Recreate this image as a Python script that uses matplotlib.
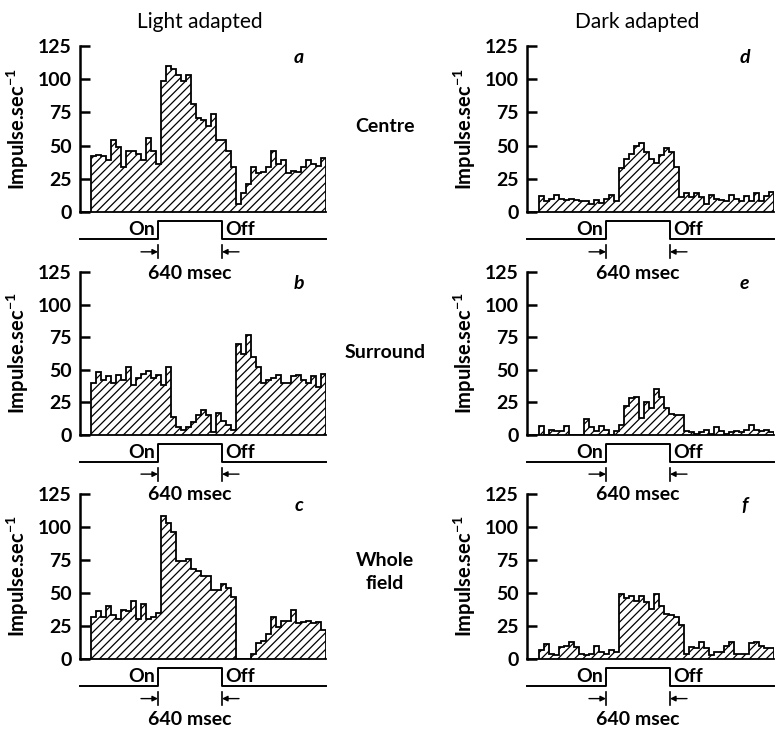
import numpy as np
import matplotlib
matplotlib.use("Agg")
import matplotlib.pyplot as plt

plt.rcParams['font.family'] = ['Lato', 'DejaVu Sans']
plt.rcParams['mathtext.fontset'] = 'custom'
plt.rcParams['mathtext.rm'] = 'Lato:bold'
plt.rcParams['mathtext.bf'] = 'Lato:bold'
plt.rcParams['hatch.linewidth'] = 0.9

# 50 msec bins, firing rate in impulse/sec
bin_ms = 50
stim_on = 670
stim_off = 1310

centre_light = [42, 43, 42, 39, 54, 49, 34, 46, 46, 44, 39, 56, 46, 36, 99, 110,
                108, 103, 99, 103, 81, 71, 69, 65, 74, 54, 54, 46, 34, 6, 14, 21,
                34, 29, 30, 34, 46, 36, 39, 29, 31, 30, 34, 39, 36, 35, 41]
surround_light = [40, 48, 42, 45, 40, 46, 42, 52, 38, 44, 47, 49, 44, 46, 38, 52,
                  14, 6, 4, 6, 10, 15, 19, 15, 2, 17, 11, 8, 4, 70, 62, 77,
                  60, 52, 40, 42, 44, 46, 40, 40, 45, 46, 42, 40, 45, 37, 47]
whole_light = [32, 36, 32, 40, 33, 30, 37, 36, 44, 30, 42, 30, 32, 35, 108, 103,
               96, 74, 74, 76, 68, 67, 63, 63, 52, 52, 57, 54, 47, 0, 0, 0,
               4, 12, 14, 19, 32, 24, 29, 29, 37, 27, 28, 29, 27, 28, 22]
centre_dark = [12, 8, 10, 13, 10, 9, 10, 9, 8, 8, 6, 9, 7, 10, 13, 8,
               33, 40, 44, 50, 52, 45, 40, 37, 43, 48, 45, 34, 11, 14, 11, 14,
               11, 6, 13, 10, 9, 8, 13, 10, 8, 12, 8, 14, 8, 12, 15]
surround_dark = [7, 0, 4, 3, 3, 7, 0, 0, 0, 12, 6, 3, 7, 4, 0, 3,
                 8, 22, 28, 29, 13, 25, 21, 35, 29, 21, 16, 15, 15, 3, 2, 1,
                 2, 4, 1, 6, 3, 1, 2, 3, 2, 4, 8, 4, 3, 4, 2]
whole_dark = [7, 11, 4, 3, 9, 10, 13, 9, 4, 3, 4, 10, 5, 4, 7, 5,
              49, 46, 48, 44, 48, 43, 38, 49, 40, 34, 33, 32, 26, 4, 9, 8,
              13, 8, 3, 5, 5, 10, 13, 4, 4, 4, 12, 13, 10, 8, 8]

panels = [
    (centre_light, 'a', 0, 0), (surround_light, 'b', 1, 0), (whole_light, 'c', 2, 0),
    (centre_dark, 'd', 0, 1), (surround_dark, 'e', 1, 1), (whole_dark, 'f', 2, 1),
]

W, H = 778, 732
fig = plt.figure(figsize=(W / 100, H / 100), dpi=100)

col_x = [(80, 326, -110), (527, 774, -120)]   # spine px, end px, xlim left
row_y = [(212, 46), (435, 272), (659, 494)]   # zero px, 125 px

for values, letter, r, c in panels:
    x0, x1, xleft = col_x[c]
    y0, y1 = row_y[r]
    ax = fig.add_axes([x0 / W, 1 - y0 / H, (x1 - x0) / W, (y0 - y1) / H])
    ax.patch.set_visible(False)
    edges = np.arange(len(values) + 1) * bin_ms
    ax.bar(edges[:-1], values, width=bin_ms, align='edge', color='white',
           edgecolor='black', linewidth=0, hatch='////')
    ax.stairs(values, edges, baseline=0, color='black', linewidth=1.3)
    ax.set_xlim(xleft, edges[-1])
    ax.set_ylim(0, 125)
    ax.set_yticks([0, 25, 50, 75, 100, 125])
    ax.set_xticks([])
    ax.tick_params(axis='y', direction='in', length=7, width=1.8, pad=6,
                   labelsize=14)
    for lab in ax.get_yticklabels():
        lab.set_fontweight('bold')
    for s in ['top', 'right']:
        ax.spines[s].set_visible(False)
    ax.spines['left'].set_linewidth(1.8)
    ax.spines['bottom'].set_linewidth(1.3)
    ax.set_ylabel('Impulse.sec$^{-1}$', fontsize=14.5, fontweight='bold', labelpad=5)
    ax.text(0.89 if c == 0 else 0.88, 0.93, letter, transform=ax.transAxes,
            fontsize=14, fontstyle='italic', fontweight='bold', ha='center', va='center')

    # stimulus trace below the histogram
    lo, hi = -20.5, -6.8
    ax.plot([xleft, stim_on, stim_on, stim_off, stim_off, edges[-1]],
            [lo, lo, hi, hi, lo, lo], color='black', lw=1.4, clip_on=False)
    ax.text(stim_on - 30, (lo + hi) / 2 + 0.5, 'On', ha='right', va='center',
            fontsize=14, fontweight='bold')
    ax.text(stim_off + 30, (lo + hi) / 2 + 0.5, 'Off', ha='left', va='center',
            fontsize=14, fontweight='bold')
    ya = -30
    ax.plot([stim_on, stim_on], [ya - 5, ya + 5], color='black', lw=1.2, clip_on=False)
    ax.plot([stim_off, stim_off], [ya - 5, ya + 5], color='black', lw=1.2, clip_on=False)
    ax.annotate('', xy=(stim_on, ya), xytext=(stim_on - 170, ya),
                arrowprops=dict(arrowstyle='-|>', color='black', lw=1.0,
                                mutation_scale=8, shrinkA=0, shrinkB=0),
                annotation_clip=False)
    ax.annotate('', xy=(stim_off, ya), xytext=(stim_off + 170, ya),
                arrowprops=dict(arrowstyle='-|>', color='black', lw=1.0,
                                mutation_scale=8, shrinkA=0, shrinkB=0),
                annotation_clip=False)
    ax.text((stim_on + stim_off) / 2, -46, '640 msec', ha='center', va='center',
            fontsize=14, fontweight='bold')

fig.text(200 / W, 1 - 22 / H, 'Light adapted', ha='center', va='center', fontsize=15)
fig.text(637 / W, 1 - 22 / H, 'Dark adapted', ha='center', va='center', fontsize=15)
fig.text(385 / W, 1 - 127 / H, 'Centre', ha='center', va='center', fontsize=14,
         fontweight='bold')
fig.text(385 / W, 1 - 352 / H, 'Surround', ha='center', va='center', fontsize=14,
         fontweight='bold')
fig.text(385 / W, 1 - 572 / H, 'Whole\nfield', ha='center', va='center', fontsize=14,
         fontweight='bold', linespacing=1.4)

fig.savefig('out.png', dpi=100, facecolor='white')
